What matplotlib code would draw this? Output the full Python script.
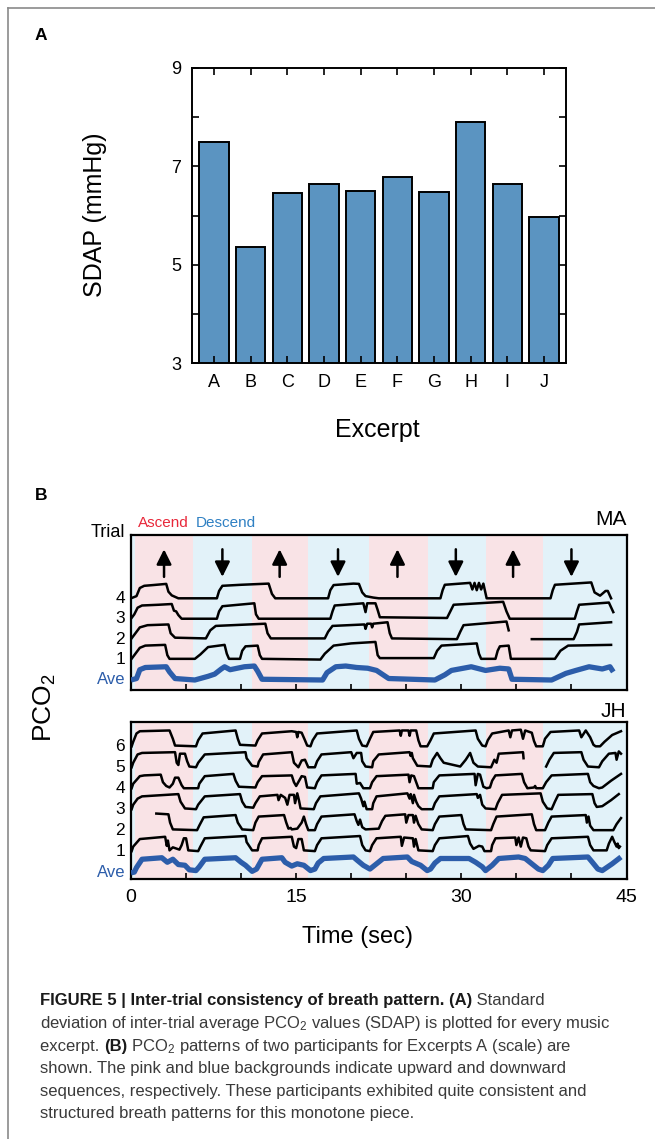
import numpy as np
import matplotlib
matplotlib.use("Agg")
import matplotlib.pyplot as plt
from matplotlib.lines import Line2D

plt.rcParams['font.family'] = ['Liberation Sans', 'DejaVu Sans']
plt.rcParams['mathtext.fontset'] = 'custom'
plt.rcParams['mathtext.rm'] = 'Liberation Sans'
plt.rcParams['mathtext.it'] = 'Liberation Sans:italic'
plt.rcParams['mathtext.bf'] = 'Liberation Sans:bold'

W, H = 655, 1139

# ---- panel A data
excerpts = list("ABCDEFGHIJ")
sdap = [7.5, 5.35, 6.45, 6.65, 6.5, 6.78, 6.47, 7.9, 6.65, 5.97]

# ---- panel B data (time in s, level 0 = baseline, 1 = plateau)
band_edges = [0, 0.35, 5.65, 11.0, 16.1, 21.6, 27.0, 32.2, 37.4, 45]
band_kind = ['d', 'a', 'd', 'a', 'd', 'a', 'd', 'a', 'd']
arrow_up_t = [3.0, 13.5, 24.2, 34.7]
arrow_down_t = [8.3, 18.8, 29.5, 40.0]

ma_trial4 = [(0, 0), (0.5, 0.15), (0.8, 0.7), (1.2, 0.85), (2.0, 0.9), (3.2, 0.98), (3.4, 0.45), (3.7, 0.2),
             (4.3, 0), (7.8, 0), (8.0, 0.5), (8.3, 0.85), (10.0, 0.92), (12.5, 1.0), (12.8, 0.3), (13.1, 0),
             (17.9, 0), (18.1, 0.55), (18.4, 0.9), (20.2, 1.0), (20.7, 0.98), (21.0, 0.4), (21.3, 0.15),
             (22.0, 0.05), (22.5, 0), (28.1, 0), (28.3, 0.55), (28.5, 0.92), (30.8, 1.05), (31.0, 0.6),
             (31.2, 1.05), (31.4, 0.55), (31.6, 1.05), (31.8, 0.6), (32.0, 1.0), (32.3, 0), (38.1, 0),
             (38.3, 0.55), (38.5, 0.92), (41.8, 1.08), (42.1, 0.4), (42.6, 0.18), (43.1, 0.5), (43.3, 0.5),
             (43.6, 0)]
ma_trial3 = [(0, 0), (0.3, 0.3), (0.6, 0.75), (1.0, 0.9), (2.5, 0.95), (3.7, 1.0), (3.9, 0.55), (4.1, 0.5),
             (4.3, 0.25), (4.6, 0), (7.8, 0), (8.0, 0.5), (8.3, 0.85), (11.2, 1.05), (11.35, 0.3), (11.6, 0),
             (18.1, 0), (18.3, 0.5), (18.5, 0.9), (21.1, 1.05), (21.3, 0.45), (21.45, 1.05), (22.2, 1.05),
             (22.4, 0.6), (22.6, 0.1), (28.7, 0.05), (29.0, 0.5), (29.3, 0.95), (33.8, 1.15), (34.1, 0.5),
             (34.4, 0), (40.3, 0), (40.5, 0.5), (40.7, 0.95), (43.4, 1.1), (43.8, 0.45)]
ma_trial2 = [(0, 0), (0.3, 0.3), (0.8, 0.8), (1.5, 0.95), (3.4, 1.0), (3.6, 0.4), (4.0, 0.1), (6.8, 0.05),
             (7.2, 0.6), (7.7, 0.9), (12.2, 1.05), (12.4, 0.4), (12.7, 0.05), (17.6, 0.05), (17.9, 0.5),
             (18.3, 0.9), (21.2, 1.0), (21.3, 0.7), (21.45, 1.05), (21.8, 1.05), (21.9, 0.8), (22.0, 1.05),
             (23.3, 1.15), (23.5, 0.4), (23.7, 0.05), (29.6, 0), (29.9, 0.5), (30.2, 0.95), (34.1, 1.2),
             (34.3, 0.6), (35.0, np.nan), (36.4, 0), (40.2, 0), (40.5, 0.5), (40.7, 1.0), (43.6, 1.15)]
ma_trial1 = [(0, 0), (0.3, 0.3), (0.8, 0.8), (1.3, 0.95), (3.1, 1.0), (3.3, 0.3), (3.5, 0.05), (5.8, 0.05),
             (6.3, 0.35), (7.0, 0.85), (8.5, 1.0), (8.7, 0.4), (8.9, 0.05), (9.9, 0.05), (10.1, 0.6),
             (10.4, 0.9), (11.5, 0.95), (11.7, 0.3), (11.9, 0.05), (17.2, 0), (17.6, 0.4), (18.4, 0.95),
             (20.0, 1.1), (22.2, 1.2), (22.4, 0.3), (22.6, 0.1), (27.5, 0.1), (27.8, 0.6), (28.2, 0.95),
             (31.4, 1.1), (31.6, 0.4), (31.8, 0.05), (33.1, 0.05), (33.3, 0.6), (33.5, 0.9), (34.3, 0.95),
             (34.5, 0.05), (38.5, 0.05), (39.0, 0.6), (39.7, 0.95), (43.6, 1.0)]
ma_ave = [(0, 0), (0.5, 0.1), (0.8, 0.7), (1.3, 0.85), (3.2, 0.9), (3.5, 0.55), (4.0, 0.1), (5.8, 0),
          (7.0, 0.25), (7.6, 0.4), (8.2, 0.75), (8.5, 0.9), (9.0, 0.7), (10.3, 0.9), (11.2, 0.95),
          (11.5, 0.6), (11.9, 0.05), (17.4, 0), (17.8, 0.5), (18.6, 0.9), (19.5, 0.95), (20.5, 0.85),
          (21.5, 0.8), (22.3, 0.65), (23.4, 0.1), (27.6, 0), (28.5, 0.35), (29.1, 0.65), (30.9, 0.9),
          (32.2, 0.65), (33.5, 0.8), (34.3, 0.75), (34.6, 0.05), (38.2, 0), (39.5, 0.45), (40.4, 0.65),
          (41.6, 0.9), (42.8, 0.75), (43.5, 0.9), (43.8, 0.55)]

jh_trial6 = [(0.06, 0), (0.2, 0.3), (0.5, 0.85), (0.8, 1.0), (3.5, 1.05), (3.8, 0.5), (4.0, 0.05), (5.9, 0),
             (6.1, 0.4), (6.5, 0.85), (9.5, 1.05), (9.7, 0.5), (9.9, 0.1), (11.3, 0.05), (11.5, 0.4),
             (11.9, 0.85), (14.6, 1.0), (15.0, 0.95), (15.1, 0.6), (15.2, 0.95), (15.5, 0.9), (15.8, 0.4),
             (16.0, 0.05), (16.3, 0), (16.5, 0.4), (16.9, 0.85), (20.5, 1.05), (20.7, 0.5), (21.0, 0.05),
             (21.4, 0), (21.7, 0.5), (22.0, 0.95), (24.4, 1.05), (24.5, 0.7), (24.6, 1.05), (25.2, 1.05),
             (25.3, 0.7), (25.4, 1.05), (25.9, 1.05), (26.1, 0.4), (26.3, 0), (26.9, 0), (27.2, 0.4),
             (27.5, 0.85), (31.3, 1.05), (31.5, 0.5), (31.9, 0.05), (32.2, 0), (32.4, 0.4), (32.8, 0.85),
             (34.3, 1.05), (34.45, 0.6), (34.6, 1.05), (35.4, 1.1), (35.6, 0.5), (35.8, 1.05), (36.4, 0.9),
             (36.6, 0.35), (36.8, 0), (37.4, 0), (37.6, 0.5), (38.1, 0.95), (40.7, 1.05), (40.9, 0.6),
             (41.3, 1.05), (41.7, 0.6), (42.0, 0.1), (42.2, 0), (42.6, 0), (43.0, 0.3), (43.7, 0.75),
             (44.5, 1.0)]
jh_trial5 = [(0.06, 0), (0.2, 0.3), (0.6, 0.85), (1.0, 0.95), (4.0, 1.0), (4.15, 0.3), (4.3, 0.15),
             (4.45, 0.9), (4.9, 0.9), (5.1, 0.4), (5.3, 0.05), (5.9, 0), (6.1, 0.3), (6.7, 0.85), (10.4, 1.0),
             (10.5, 0.6), (11.0, 0.1), (11.5, 0.05), (11.6, 0.35), (12.0, 0.85), (14.6, 1.0), (14.8, 0.3),
             (15.2, 0), (15.5, 0.45), (15.8, 0.5), (16.1, 0), (16.7, 0), (16.9, 0.4), (17.3, 0.85),
             (20.0, 1.0), (20.2, 0.6), (20.5, 0.95), (20.9, 0.95), (21.0, 0.4), (21.3, 0.05), (21.9, 0),
             (22.0, 0.4), (22.5, 0.85), (25.3, 1.0), (25.4, 0.75), (25.5, 0.95), (25.6, 0.6), (26.0, 0.1),
             (27.2, 0.05), (27.4, 0.5), (27.8, 0.95), (28.1, 0.6), (28.4, 0.3), (29.9, 0.05), (30.4, 0.5),
             (30.8, 0.95), (31.1, 0.3), (31.5, 0.05), (32.7, 0), (33.0, 0.5), (33.2, 0.3), (33.4, 0.9),
             (35.6, 1.0), (35.65, 0.6), (36.5, np.nan), (37.7, 0.05), (38.0, 0.5), (38.4, 0.95), (40.9, 1.0),
             (41.1, 0.5), (41.5, 0.05), (42.5, 0), (42.8, 0.4), (43.4, 0.9), (44.0, 0.95), (44.1, 0.5),
             (44.3, 1.05), (44.5, 0.9)]
jh_trial4 = [(0.06, 0), (0.2, 0.3), (0.8, 0.8), (1.2, 0.85), (2.7, 0.9), (2.9, 0.4), (3.2, 0.15), (3.5, 0.05),
             (3.8, 0.3), (4.0, 0.7), (4.3, 0.7), (4.6, 0.2), (4.8, 0), (6.1, 0), (6.2, 0.3), (6.7, 0.8),
             (9.3, 0.95), (9.5, 0.5), (9.8, 0.1), (11.3, 0.05), (11.5, 0.4), (11.9, 0.8), (14.6, 0.85),
             (14.8, 0.4), (15.0, 0.15), (15.5, 0.8), (15.8, 0.75), (16.0, 0.05), (16.7, 0), (16.9, 0.4),
             (17.3, 0.85), (20.4, 0.95), (20.5, 0.3), (20.8, 0.35), (21.1, 0), (21.7, 0), (21.9, 0.4),
             (22.3, 0.8), (25.2, 0.9), (25.3, 0.4), (25.45, 0.85), (25.7, 0.8), (26.1, 0), (27.4, 0),
             (27.5, 0.4), (28.0, 0.85), (31.2, 0.95), (31.3, 0.2), (31.5, 0.95), (31.7, 0.9), (32.0, 0.1),
             (32.3, 0), (32.6, 0.05), (32.8, 0.5), (33.1, 0.85), (35.5, 0.95), (35.7, 0.4), (36.0, 0),
             (36.6, 0.05), (36.7, 0.15), (36.8, 0), (37.4, 0), (37.7, 0.4), (38.2, 0.85), (41.5, 0.95),
             (41.7, 0.4), (42.0, 0.15), (42.5, 0), (42.8, 0.05), (43.6, 0.5), (44.5, 0.95)]
jh_trial3 = [(0.06, 0), (0.2, 0.3), (0.6, 0.7), (1.0, 0.85), (4.3, 1.0), (4.5, 0.5), (4.9, 0.05), (5.9, 0),
             (6.1, 0.3), (6.7, 0.85), (9.9, 1.0), (10.1, 0.5), (10.4, 0.15), (11.1, 0.1), (11.3, 0.4),
             (11.7, 0.85), (13.3, 0.95), (13.4, 0.6), (13.6, 0.95), (14.0, 0.75), (14.2, 0.3), (14.4, 0.95),
             (14.8, 0.95), (14.9, 0.4), (15.1, 1.05), (15.25, 0.6), (15.4, 0.05), (16.6, 0), (16.8, 0.4),
             (17.2, 0.85), (20.7, 1.05), (20.9, 0.7), (21.1, 0.2), (21.2, 0.5), (21.4, 0), (21.9, 0),
             (22.0, 0.4), (22.3, 0.85), (25.1, 1.05), (25.3, 0.7), (25.4, 1.0), (25.6, 0.4), (25.7, 0.95),
             (25.9, 0.5), (26.1, 0.2), (26.4, 0), (27.4, 0), (27.6, 0.4), (28.0, 0.85), (31.4, 1.0),
             (31.5, 0.75), (31.7, 0.95), (31.9, 0.3), (32.2, 0.05), (33.1, 0), (33.3, 0.4), (33.7, 0.95),
             (37.2, 1.05), (37.4, 0.5), (37.8, 0.05), (38.2, 0), (38.5, 0.5), (38.8, 0.95), (41.9, 1.0),
             (42.1, 0.4), (42.3, 0.15), (42.8, 0.2), (43.6, 0.6), (44.3, 1.0)]
jh_trial2 = [(2.3, 1.1), (3.4, 1.05), (3.55, 0.5), (3.8, 0.05), (6.0, 0), (6.2, 0.3), (6.6, 0.85), (9.5, 1.0),
             (9.7, 0.5), (10.1, 0.05), (11.1, 0), (11.3, 0.5), (11.6, 0.9), (13.9, 1.0), (14.1, 0.5),
             (14.3, 0.1), (14.5, 0.15), (14.6, 0.05), (15.1, 0.1), (15.5, 0.5), (15.7, 0.9), (15.9, 0.4),
             (16.1, 0), (16.7, 0), (16.9, 0.4), (17.3, 0.9), (20.3, 1.05), (20.5, 0.6), (20.65, 0.35),
             (20.8, 0.7), (21.0, 0.2), (21.3, 0.05), (22.5, 0.1), (22.8, 0.6), (23.1, 0.95), (24.9, 1.05),
             (25.0, 0.5), (25.2, 1.0), (25.6, 1.0), (25.7, 0.5), (25.85, 0.95), (26.1, 0.4), (26.4, 0.05),
             (27.4, 0), (27.6, 0.4), (28.0, 0.9), (30.0, 1.0), (30.2, 0.4), (30.4, 0.05), (32.7, 0),
             (32.9, 0.4), (33.2, 0.9), (36.4, 1.05), (36.6, 0.4), (36.8, 0), (37.6, 0), (37.9, 0.5),
             (38.2, 0.9), (41.3, 1.0), (41.4, 0.5), (41.55, 0.9), (41.7, 0.3), (42.0, 0), (43.8, 0),
             (44.1, 0.4), (44.5, 0.8)]
jh_trial1 = [(0.06, 0), (0.2, 0.3), (0.8, 0.8), (3.1, 0.95), (3.25, 0.35), (3.35, 0.7), (3.5, 0.05),
             (3.8, 0.25), (4.4, 0.1), (4.6, 0.4), (4.8, 0.85), (5.0, 0.85), (5.2, 0.05), (6.1, 0), (6.3, 0.3),
             (6.7, 0.85), (10.4, 1.0), (10.5, 0.6), (11.0, 0.05), (11.5, 0.05), (11.6, 0.4), (11.9, 0.85),
             (14.6, 0.95), (14.8, 0.3), (15.0, 0.2), (15.2, 0.8), (15.5, 0.8), (15.7, 0.05), (16.7, 0),
             (16.9, 0.4), (17.3, 0.85), (20.8, 1.0), (21.0, 0.4), (21.3, 0.05), (21.7, 0), (21.9, 0.4),
             (22.3, 0.85), (24.5, 0.95), (24.6, 0.35), (24.8, 0.9), (25.6, 0.85), (25.7, 0.3), (25.85, 0.8),
             (26.1, 0.05), (27.4, 0), (27.6, 0.4), (28.0, 0.85), (30.6, 1.0), (30.8, 0.5), (31.1, 0.15),
             (31.6, 0.35), (31.9, 0.3), (32.1, 0), (32.7, 0), (32.8, 0.4), (33.1, 0.85), (34.9, 0.9),
             (35.0, 0.4), (35.2, 0.9), (35.4, 0.3), (35.6, 0.9), (35.9, 0.85), (36.1, 0.3), (36.3, 0.05),
             (37.6, 0), (37.8, 0.4), (38.2, 0.85), (41.5, 0.95), (41.7, 0.4), (42.0, 0.05), (43.2, 0.05),
             (43.4, 0.5), (43.7, 0.95), (43.9, 0.6), (44.1, 0.3), (44.2, 0.5), (44.3, 0.2), (44.4, 0.3)]
jh_ave = [(0.0, -0.05), (0.3, 0), (0.5, 0.3), (1.0, 0.85), (2.8, 0.95), (3.3, 0.65), (3.8, 0.85), (4.3, 0.5),
          (4.9, 0.45), (5.3, 0.15), (5.9, 0.1), (6.2, 0.35), (6.7, 0.85), (9.5, 0.95), (10.0, 0.65),
          (10.4, 0.45), (10.7, 0.25), (11.0, 0.05), (11.4, 0.2), (11.9, 0.85), (13.7, 0.95), (14.0, 0.65),
          (14.6, 0.4), (15.1, 0.55), (15.7, 0.45), (16.3, 0.1), (16.7, 0.2), (17.0, 0.6), (17.5, 0.9),
          (20.2, 1.0), (20.6, 0.75), (21.1, 0.45), (21.7, 0.2), (22.3, 0.55), (22.9, 0.9), (25.1, 1.0),
          (25.5, 0.7), (26.3, 0.45), (26.9, 0.1), (27.2, 0.2), (27.6, 0.6), (28.1, 0.9), (30.7, 0.9),
          (31.3, 0.65), (31.9, 0.35), (32.2, 0.1), (32.8, 0.45), (33.4, 0.9), (35.2, 1.0), (35.8, 0.9),
          (36.4, 0.55), (37.0, 0.2), (37.4, 0.1), (37.9, 0.45), (38.3, 0.9), (41.5, 1.0), (41.9, 0.65),
          (42.4, 0.2), (42.8, 0.1), (43.7, 0.55), (44.5, 1.0)]

ma_trials = [ma_trial1, ma_trial2, ma_trial3, ma_trial4]
jh_trials = [jh_trial1, jh_trial2, jh_trial3, jh_trial4, jh_trial5, jh_trial6]

caption_lines = [
    [("FIGURE 5 | Inter-trial consistency of breath pattern. (A)", True), (" Standard", False)],
    [("deviation of inter-trial average PCO$_2$ values (SDAP) is plotted for every music", False)],
    [("excerpt. ", False), ("(B)", True), (" PCO$_2$ patterns of two participants for Excerpts A (scale) are", False)],
    [("shown. The pink and blue backgrounds indicate upward and downward", False)],
    [("sequences, respectively. These participants exhibited quite consistent and", False)],
    [("structured breath patterns for this monotone piece.", False)],
]

BAR = '#5b94c1'
PINK = '#f9e3e6'
LBLUE = '#e2f2f9'
AVE = '#2c5daa'
AMP = 0.72


def fx(x):
    return x / W


def fy(y):
    return 1 - y / H


fig = plt.figure(figsize=(W / 100, H / 100), dpi=100)

# frame lines
fig.add_artist(Line2D([fx(8), fx(8)], [0, fy(8)], color='#8a8a8a', lw=1.2, transform=fig.transFigure))
fig.add_artist(Line2D([fx(8), 1], [fy(8), fy(8)], color='#8a8a8a', lw=1.2, transform=fig.transFigure))

# ---------------- panel A
axA = fig.add_axes([fx(192), fy(363), (566 - 192) / W, (363 - 68) / H])
axA.bar(range(len(excerpts)), sdap, width=0.8, color=BAR, edgecolor='black', linewidth=1.4)
axA.set_xlim(-0.6, 9.6)
axA.set_ylim(3, 9)
axA.set_xticks(range(len(excerpts)))
axA.set_xticklabels(excerpts)
axA.set_yticks([3, 5, 7, 9])
axA.set_yticks([4, 6, 8], minor=True)
axA.tick_params(which='both', direction='in', top=True, right=True, length=5, width=1.2, labelsize=13)
axA.tick_params(axis='x', pad=8)
axA.tick_params(axis='y', pad=8)
for s in axA.spines.values():
    s.set_linewidth(1.4)
fig.text(fx(95), fy(215), 'SDAP (mmHg)', rotation=90, ha='center', va='center', fontsize=18)
fig.text(fx(377), fy(430), 'Excerpt', ha='center', va='center', fontsize=18)
fig.text(fx(35), fy(35), 'A', fontweight='bold', fontsize=12.5, ha='left', va='center')
fig.text(fx(35), fy(495), 'B', fontweight='bold', fontsize=12.5, ha='left', va='center')


# ---------------- panel B
def trace_xy(pts, base):
    t = np.array([p[0] for p in pts], dtype=float)
    v = np.array([p[1] for p in pts], dtype=float)
    return t, base + AMP * v


def setup_time_axis(ax, ylim, labels):
    for i, k in enumerate(band_kind):
        ax.axvspan(band_edges[i], band_edges[i + 1], color=PINK if k == 'a' else LBLUE, lw=0, zorder=0)
    ax.set_xlim(0, 45)
    ax.set_ylim(*ylim)
    ax.set_yticks([])
    ticks = list(range(0, 46, 5))
    ax.set_xticks(ticks)
    if labels:
        ax.set_xticklabels([str(t) if t % 15 == 0 else '' for t in ticks])
    else:
        ax.set_xticklabels([])
    ax.tick_params(axis='x', direction='in', length=4, width=1.2, labelsize=14, pad=7)
    for s in ax.spines.values():
        s.set_linewidth(1.6)


def draw_traces(ax, trials, ave, names):
    for k, pts in enumerate(trials, start=1):
        t, y = trace_xy(pts, k)
        ax.plot(t, y, color='black', lw=1.8, solid_joinstyle='round', zorder=3)
    t, y = trace_xy(ave, 0)
    ax.plot(t, y, color=AVE, lw=3.8, solid_capstyle='butt', zorder=3)
    for k, name in enumerate(names):
        ax.text(-0.012, k, name, transform=ax.get_yaxis_transform(), ha='right', va='center',
                fontsize=12.5 if k else 12, color=AVE if k == 0 else 'black')


axMA = fig.add_axes([fx(131), fy(690), 495.5 / W, 155 / H])
setup_time_axis(axMA, (-0.49, 7.1), False)
draw_traces(axMA, ma_trials, ma_ave, ['Ave', '1', '2', '3', '4'])
for t in arrow_up_t:
    axMA.annotate('', xy=(t, 6.4), xytext=(t, 5.05),
                  arrowprops=dict(arrowstyle='-|>,head_length=0.9,head_width=0.45', lw=1.8,
                                  color='black', shrinkA=0, shrinkB=0))
for t in arrow_down_t:
    axMA.annotate('', xy=(t, 5.05), xytext=(t, 6.4),
                  arrowprops=dict(arrowstyle='-|>,head_length=0.9,head_width=0.45', lw=1.8,
                                  color='black', shrinkA=0, shrinkB=0))
axMA.text(-0.012, 1.013, 'Trial', transform=axMA.transAxes, ha='right', va='center', fontsize=13)
axMA.text(1.0, 1.097, 'MA', transform=axMA.transAxes, ha='right', va='center', fontsize=15)
axMA.text(0.014, 1.077, 'Ascend', transform=axMA.transAxes, ha='left', va='center', fontsize=11,
          color='#e8283a')
axMA.text(0.131, 1.077, 'Descend', transform=axMA.transAxes, ha='left', va='center', fontsize=11,
          color='#2f80c3')

axJH = fig.add_axes([fx(131), fy(879), 495.5 / W, 157 / H])
setup_time_axis(axJH, (-0.33, 7.16), True)
draw_traces(axJH, jh_trials, jh_ave, ['Ave', '1', '2', '3', '4', '5', '6'])
axJH.text(1.0, 1.064, 'JH', transform=axJH.transAxes, ha='right', va='center', fontsize=15)

fig.text(fx(45), fy(708), 'PCO$_2$', rotation=90, ha='center', va='center', fontsize=19)
fig.text(fx(357), fy(937), 'Time (sec)', ha='center', va='center', fontsize=17)

# ---------------- caption
renderer = fig.canvas.get_renderer()
line_y = [1005, 1028, 1051, 1073, 1096, 1118]
for y, parts in zip(line_y, caption_lines):
    x = fx(40)
    for s, bold in parts:
        txt = fig.text(x, fy(y), s, fontsize=12, fontweight='bold' if bold else 'normal',
                       color='#1a1a1a' if bold else '#3a3a3a', ha='left', va='baseline')
        x += txt.get_window_extent(renderer).width / W

fig.savefig('out.png', dpi=100)
